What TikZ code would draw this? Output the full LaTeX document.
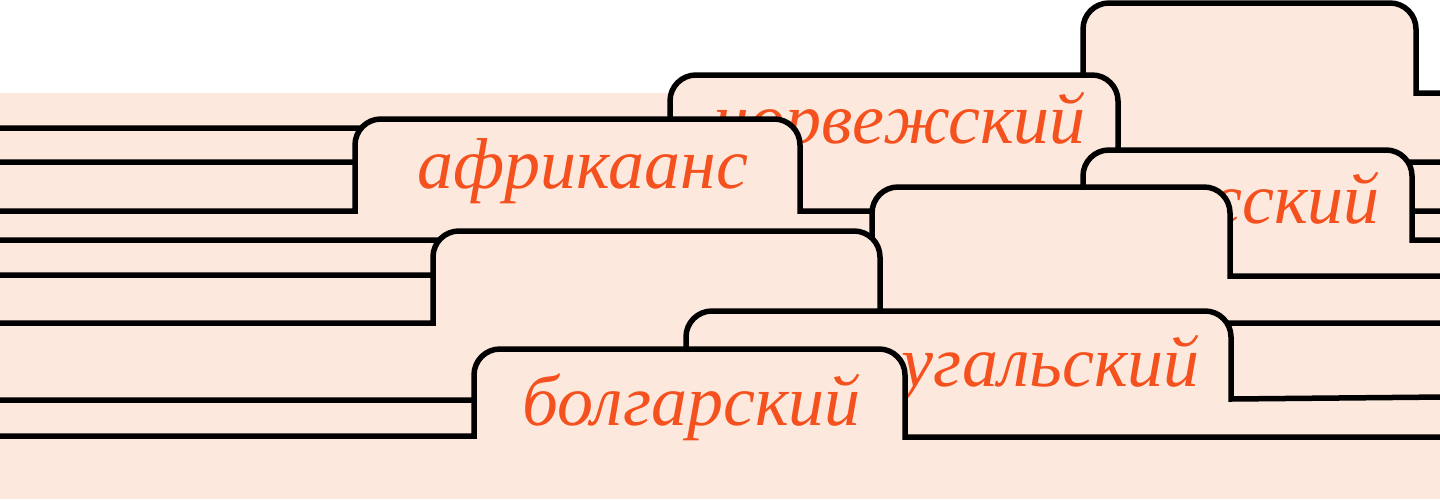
\documentclass[tikz,border=0pt]{standalone}
\usepackage{fontspec}
\setmainfont{Liberation Serif}
\definecolor{peach}{HTML}{FDE8DE}
\definecolor{tabtext}{HTML}{F4511E}
\tikzset{
  folderline/.style={draw=black, line width=5.5pt},
  tablabel/.style={text=tabtext, inner sep=0pt, font=\fontsize{72}{84}\selectfont\itshape},
}
% #1 xl, #2 left baseline, #3 tab top, #4 xr, #5 baseline at xr, #6 baseline at right edge
\newcommand\foldertab[6]{%
  \fill[peach] (#1,{max(#2,#5)}) -- (#1,{#3+26})
     .. controls (#1,{#3+11.64}) and ({#1+11.64},#3) .. ({#1+26},#3)
     -- ({#4-26},#3)
     .. controls ({#4-11.64},#3) and (#4,{#3+11.64}) .. (#4,{#3+26})
     -- (#4,{max(#2,#5)}) -- cycle;
  \draw[folderline] (-5,#2) -- (#1,#2) -- (#1,{#3+26})
     .. controls (#1,{#3+11.64}) and ({#1+11.64},#3) .. ({#1+26},#3)
     -- ({#4-26},#3)
     .. controls ({#4-11.64},#3) and (#4,{#3+11.64}) .. (#4,{#3+26})
     -- (#4,#5) -- (1445,#6);
}
\begin{document}
\begin{tikzpicture}[x=1pt,y=-1pt]
\useasboundingbox (0,0) rectangle (1440,499);
\fill[white] (0,0) rectangle (1440,499);
\fill[peach] (0,93) rectangle (1440,499);
% back to front
\foldertab{1083}{128}{3}{1416}{93}{93}
\foldertab{670}{162}{75}{1118}{162}{162}
\node[tablabel, anchor=base east] (nor) at (1086,143) {норвежский};
\foldertab{355}{211}{119}{800}{211}{211}
\node[tablabel, anchor=base west] (afr) at (417,188) {африкаанс};
\foldertab{1083}{240}{150}{1412}{240}{240}
\node[tablabel, anchor=base east] (rus) at (1380,223) {русский};
\foldertab{872}{275}{187}{1230}{276}{276}
\foldertab{433}{323}{231}{880}{323}{323}
\foldertab{686}{400}{311}{1231}{399}{397}
\node[tablabel, anchor=base east] (por) at (1200,386) {португальский};
\foldertab{474}{436}{349}{905}{437}{437}
\node[tablabel, anchor=base west] (bul) at (522,425) {болгарский};
\end{tikzpicture}
\end{document}
